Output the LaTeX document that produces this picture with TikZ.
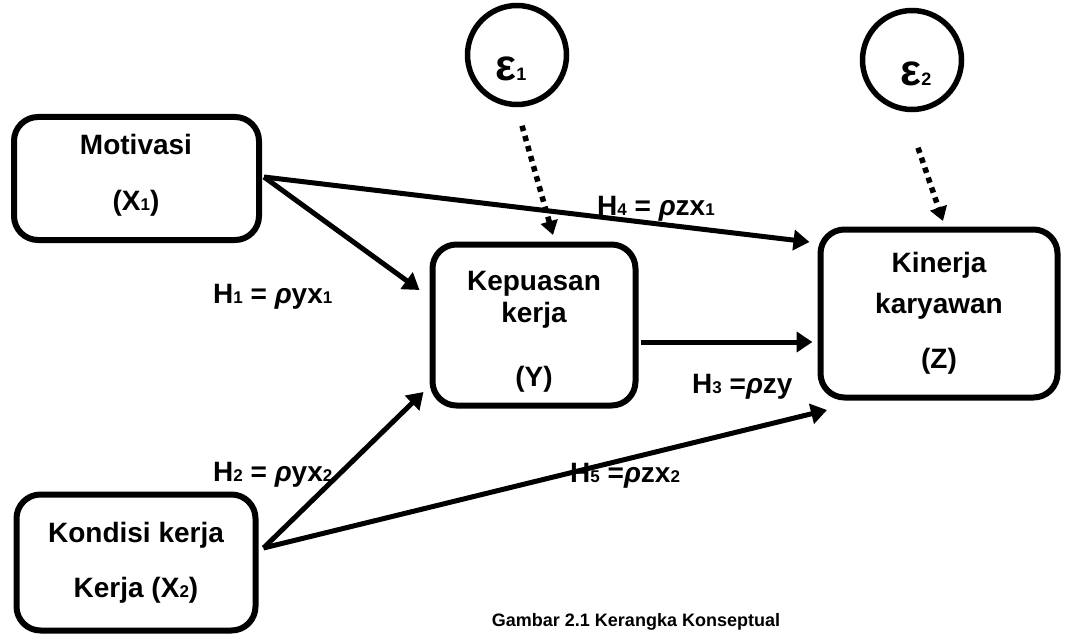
\documentclass[tikz,border=0pt]{standalone}
\usepackage{fontspec}
\setmainfont{Liberation Sans}
\usetikzlibrary{arrows.meta,calc}
\newcommand\sbs[1]{{\fontsize{17}{17}\selectfont #1}}
\newcommand\rh{\textit{ρ}}
\begin{document}
\begin{tikzpicture}[x=1pt,y=-1pt,
 box/.style={draw,line width=6pt,rounded corners=24pt,inner sep=0pt},
 circ/.style={draw,circle,line width=5.5pt,minimum size=99pt,inner sep=0pt},
 txt/.style={font=\fontsize{28}{28}\selectfont\bfseries,inner sep=0pt,anchor=base},
 lbl/.style={font=\fontsize{28}{28}\selectfont\bfseries,inner sep=0pt,anchor=base west},
 eps/.style={inner sep=0pt,anchor=base,font=\fontsize{44}{44}\selectfont\bfseries},
 arr/.style={line width=5pt,-{Triangle[length=16pt,width=20pt]}},
 dotarr/.style={line width=5.5pt,dash pattern=on 5.5pt off 5pt,-{Triangle[length=14pt,width=17pt]}}]
\useasboundingbox (0,0) rectangle (1070,639);
% boxes
\node[box,minimum width=245pt,minimum height=123pt] (mot) at (136.5,178.5) {};
\node[box,minimum width=239pt,minimum height=136pt] (kon) at (136,562.5) {};
\node[box,minimum width=203pt,minimum height=161pt] (kep) at (534,325) {};
\node[box,minimum width=237pt,minimum height=168pt] (kin) at (939,313.5) {};
\node[circ] (e1) at (517,55) {};
\node[circ] (e2) at (912,60) {};
% box texts
\node[txt] (mot1) at (136,155) {Motivasi};
\node[txt] (mot2) at (136,210) {(X\sbs{1})};
\node[txt] (kon1) at (136,542) {Kondisi kerja};
\node[txt] (kon2) at (136,597) {Kerja (X\sbs{2})};
\node[txt] (kep1) at (534,290) {Kepuasan};
\node[txt] (kep2) at (534,322) {kerja};
\node[txt] (kep3) at (534,386) {(Y)};
\node[txt] (kin1) at (939,272) {Kinerja};
\node[txt] (kin2) at (939,313) {karyawan};
\node[txt] (kin3) at (939,368) {(Z)};
\node[eps] (e1t) at (511,81) {ε\sbs{\fontsize{18}{18}\selectfont 1}};
\node[eps] (e2t) at (916,86) {ε\sbs{\fontsize{18}{18}\selectfont 2}};
% arrows
\draw[arr] ([xshift=2pt,yshift=1.5pt]mot.east) -- ([xshift=-10pt,yshift=35pt]kep.west);
\draw[arr] ([xshift=2pt,yshift=1.5pt]mot.east) -- ([xshift=-8pt,yshift=71.5pt]kin.west);
\draw[arr] ([xshift=2pt,yshift=-17pt]kep.east) -- ([xshift=-5pt,yshift=-28.5pt]kin.west);
\draw[arr] ([xshift=5pt,yshift=14.5pt]kon.east) -- ([xshift=-6pt,yshift=-67pt]kep.west);
\draw[arr] ([xshift=5pt,yshift=14.5pt]kon.east) -- ([xshift=9.5pt,yshift=-96.5pt]kin.west);
\draw[dotarr] ([xshift=5pt,yshift=-18.5pt]e1.south) -- ([xshift=19pt,yshift=6.5pt]kep.north);
\draw[dotarr] ([xshift=6pt,yshift=-35.5pt]e2.south) -- ([xshift=4pt,yshift=5.5pt]kin.north);
% labels
\node[lbl] (h1) at (213,303) {H\sbs{1} = \rh yx\sbs{1}};
\node[lbl] (h2) at (213,481) {H\sbs{2} = \rh yx\sbs{2}};
\node[lbl] (h3) at (692,393) {H\sbs{3} =\rh zy};
\node[lbl] (h4) at (597,215) {H\sbs{4} = \rh zx\sbs{1}};
\node[lbl] (h5) at (570,482) {H\sbs{5} =\rh zx\sbs{2}};
\node[inner sep=0pt,font=\fontsize{18}{18}\selectfont\bfseries] (cap) at (636,622) {Gambar 2.1 Kerangka Konseptual};
\end{tikzpicture}
\end{document}
